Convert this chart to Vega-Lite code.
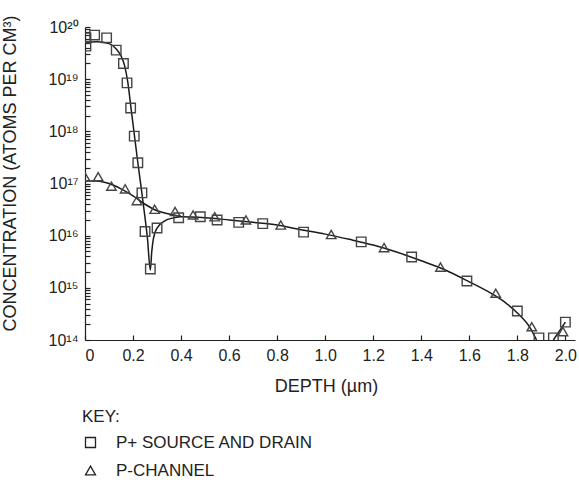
{
  "$schema": "https://vega.github.io/schema/vega-lite/v6.json",
  "autosize": {"type": "none"},
  "width": 490,
  "height": 313,
  "padding": {"left": 85, "top": 27, "right": 4, "bottom": 142},
  "background": "white",
  "config": {
    "view": {"stroke": null},
    "font": "Liberation Sans",
    "axis": {
      "domainColor": "#222", "tickColor": "#222", "labelColor": "#222", "titleColor": "#222",
      "labelFont": "Liberation Sans", "titleFont": "Liberation Sans",
      "labelFontSize": 16, "titleFontSize": 18, "titleFontWeight": "normal",
      "grid": false, "domainWidth": 1.2, "tickWidth": 1.2
    },
    "legend": {
      "labelFont": "Liberation Sans", "titleFont": "Liberation Sans",
      "labelFontSize": 17, "titleFontSize": 17, "titleFontWeight": "normal",
      "labelColor": "#222", "titleColor": "#222", "labelLimit": 400
    }
  },
  "datasets": {
    "fits": [
      {"series": "sd", "x": 0, "y": 5.0e19},
      {"series": "sd", "x": 0.05, "y": 5.2e19},
      {"series": "sd", "x": 0.1, "y": 4.8e19},
      {"series": "sd", "x": 0.13, "y": 3.8e19},
      {"series": "sd", "x": 0.15, "y": 2.8e19},
      {"series": "sd", "x": 0.165, "y": 1.8e19},
      {"series": "sd", "x": 0.178, "y": 8.9e18},
      {"series": "sd", "x": 0.19, "y": 3.2e18},
      {"series": "sd", "x": 0.205, "y": 8.9e17},
      {"series": "sd", "x": 0.22, "y": 2.5e17},
      {"series": "sd", "x": 0.235, "y": 7.6e16},
      {"series": "sd", "x": 0.25, "y": 2.2e16},
      {"series": "sd", "x": 0.26, "y": 8.9e15},
      {"series": "sd", "x": 0.272, "y": 2.2e15},
      {"series": "sd", "x": 0.278, "y": 5.0e15},
      {"series": "sd", "x": 0.285, "y": 8.9e15},
      {"series": "sd", "x": 0.3, "y": 1.4e16},
      {"series": "sd", "x": 0.33, "y": 1.9e16},
      {"series": "sd", "x": 0.37, "y": 2.2e16},
      {"series": "sd", "x": 0.4, "y": 2.3e16},
      {"series": "sd", "x": 0.5, "y": 2.2e16},
      {"series": "sd", "x": 0.6, "y": 2.0e16},
      {"series": "sd", "x": 0.7, "y": 1.8e16},
      {"series": "sd", "x": 0.8, "y": 1.6e16},
      {"series": "sd", "x": 0.9, "y": 1.3e16},
      {"series": "sd", "x": 1.0, "y": 1.07e16},
      {"series": "sd", "x": 1.1, "y": 8.5e15},
      {"series": "sd", "x": 1.2, "y": 6.6e15},
      {"series": "sd", "x": 1.3, "y": 4.8e15},
      {"series": "sd", "x": 1.4, "y": 3.3e15},
      {"series": "sd", "x": 1.5, "y": 2.2e15},
      {"series": "sd", "x": 1.6, "y": 1.3e15},
      {"series": "sd", "x": 1.7, "y": 7.4e14},
      {"series": "sd", "x": 1.75, "y": 5.2e14},
      {"series": "sd", "x": 1.8, "y": 3.3e14},
      {"series": "sd", "x": 1.85, "y": 1.8e14},
      {"series": "sd", "x": 1.88, "y": 1.0e14},
      {"series": "tail", "x": 1.95, "y": 1.0e14},
      {"series": "tail", "x": 2.0, "y": 2.2e14},
      {"series": "pc", "x": 0, "y": 1.12e17},
      {"series": "pc", "x": 0.05, "y": 1.12e17},
      {"series": "pc", "x": 0.1, "y": 1.0e17},
      {"series": "pc", "x": 0.15, "y": 7.9e16},
      {"series": "pc", "x": 0.2, "y": 5.8e16},
      {"series": "pc", "x": 0.25, "y": 4.0e16},
      {"series": "pc", "x": 0.3, "y": 3.0e16},
      {"series": "pc", "x": 0.35, "y": 2.6e16},
      {"series": "pc", "x": 0.4, "y": 2.35e16}
    ],
    "points": [
      {"type": "P+ SOURCE  AND DRAIN", "x": 0.004, "y": 6.2e19},
      {"type": "P+ SOURCE  AND DRAIN", "x": 0.004, "y": 4.3e19},
      {"type": "P+ SOURCE  AND DRAIN", "x": 0.04, "y": 7.0e19},
      {"type": "P+ SOURCE  AND DRAIN", "x": 0.09, "y": 6.2e19},
      {"type": "P+ SOURCE  AND DRAIN", "x": 0.13, "y": 3.6e19},
      {"type": "P+ SOURCE  AND DRAIN", "x": 0.16, "y": 2.0e19},
      {"type": "P+ SOURCE  AND DRAIN", "x": 0.175, "y": 8.5e18},
      {"type": "P+ SOURCE  AND DRAIN", "x": 0.19, "y": 2.8e18},
      {"type": "P+ SOURCE  AND DRAIN", "x": 0.205, "y": 8.1e17},
      {"type": "P+ SOURCE  AND DRAIN", "x": 0.22, "y": 2.5e17},
      {"type": "P+ SOURCE  AND DRAIN", "x": 0.237, "y": 6.6e16},
      {"type": "P+ SOURCE  AND DRAIN", "x": 0.25, "y": 1.2e16},
      {"type": "P+ SOURCE  AND DRAIN", "x": 0.272, "y": 2.3e15},
      {"type": "P+ SOURCE  AND DRAIN", "x": 0.3, "y": 1.4e16},
      {"type": "P+ SOURCE  AND DRAIN", "x": 0.39, "y": 2.2e16},
      {"type": "P+ SOURCE  AND DRAIN", "x": 0.48, "y": 2.3e16},
      {"type": "P+ SOURCE  AND DRAIN", "x": 0.55, "y": 2.0e16},
      {"type": "P+ SOURCE  AND DRAIN", "x": 0.64, "y": 1.8e16},
      {"type": "P+ SOURCE  AND DRAIN", "x": 0.74, "y": 1.7e16},
      {"type": "P+ SOURCE  AND DRAIN", "x": 0.91, "y": 1.17e16},
      {"type": "P+ SOURCE  AND DRAIN", "x": 1.15, "y": 7.6e15},
      {"type": "P+ SOURCE  AND DRAIN", "x": 1.36, "y": 3.9e15},
      {"type": "P+ SOURCE  AND DRAIN", "x": 1.59, "y": 1.35e15},
      {"type": "P+ SOURCE  AND DRAIN", "x": 1.8, "y": 3.6e14},
      {"type": "P+ SOURCE  AND DRAIN", "x": 1.89, "y": 1.1e14},
      {"type": "P+ SOURCE  AND DRAIN", "x": 1.95, "y": 1.1e14},
      {"type": "P+ SOURCE  AND DRAIN", "x": 2.0, "y": 2.2e14},
      {"type": "P-CHANNEL", "x": 0.0, "y": 1.35e17},
      {"type": "P-CHANNEL", "x": 0.055, "y": 1.35e17},
      {"type": "P-CHANNEL", "x": 0.11, "y": 8.9e16},
      {"type": "P-CHANNEL", "x": 0.167, "y": 7.9e16},
      {"type": "P-CHANNEL", "x": 0.216, "y": 4.7e16},
      {"type": "P-CHANNEL", "x": 0.29, "y": 3.2e16},
      {"type": "P-CHANNEL", "x": 0.375, "y": 2.9e16},
      {"type": "P-CHANNEL", "x": 0.45, "y": 2.5e16},
      {"type": "P-CHANNEL", "x": 0.54, "y": 2.3e16},
      {"type": "P-CHANNEL", "x": 0.67, "y": 2.0e16},
      {"type": "P-CHANNEL", "x": 0.815, "y": 1.6e16},
      {"type": "P-CHANNEL", "x": 1.025, "y": 1.05e16},
      {"type": "P-CHANNEL", "x": 1.245, "y": 5.9e15},
      {"type": "P-CHANNEL", "x": 1.48, "y": 2.5e15},
      {"type": "P-CHANNEL", "x": 1.71, "y": 7.9e14},
      {"type": "P-CHANNEL", "x": 1.86, "y": 1.8e14},
      {"type": "P-CHANNEL", "x": 1.99, "y": 1.45e14}
    ]
  },
  "layer": [
    {
      "data": {"name": "fits"},
      "mark": {"type": "line", "color": "#1a1a1a", "strokeWidth": 1.5, "interpolate": "monotone", "clip": true},
      "encoding": {
        "x": {
          "field": "x", "type": "quantitative",
          "scale": {"domain": [0, 2.04], "nice": false, "zero": false},
          "axis": {
            "values": [0, 0.2, 0.4, 0.6, 0.8, 1.0, 1.2, 1.4, 1.6, 1.8, 2.0],
            "labelExpr": "datum.value == 0 ? '0' : format(datum.value, '.1f')",
            "tickSize": -5, "labelPadding": 12,
            "title": "DEPTH (µm)", "titleX": 241, "titleY": 46, "titleBaseline": "middle", "titleAnchor": "middle"
          }
        },
        "y": {
          "field": "y", "type": "quantitative",
          "scale": {"type": "log", "domain": [1e14, 1e20], "nice": false},
          "axis": {
            "values": [1e14,2e14,3e14,4e14,5e14,6e14,7e14,8e14,9e14,1e15,2e15,3e15,4e15,5e15,6e15,7e15,8e15,9e15,1e16,2e16,3e16,4e16,5e16,6e16,7e16,8e16,9e16,1e17,2e17,3e17,4e17,5e17,6e17,7e17,8e17,9e17,1e18,2e18,3e18,4e18,5e18,6e18,7e18,8e18,9e18,1e19,2e19,3e19,4e19,5e19,6e19,7e19,8e19,9e19,1e20],
            "labelExpr": "abs(log(datum.value)/LN10 - round(log(datum.value)/LN10)) > 0.001 ? '' : (round(log(datum.value)/LN10) >= 20 ? '10²⁰' : '10¹' + ['⁰','¹','²','³','⁴','⁵','⁶','⁷','⁸','⁹'][round(log(datum.value)/LN10) - 10])",
            "tickSize": -5, "labelPadding": 12, "labelBound": false, "labelOverlap": false,
            "title": "CONCENTRATION (ATOMS PER CM³)", "titleX": -75, "titleY": 146, "titleAngle": -90, "titleBaseline": "middle", "titleAnchor": "middle", "titleAlign": "center"
          }
        },
        "detail": {"field": "series", "type": "nominal"}
      }
    },
    {
      "data": {"name": "points"},
      "mark": {"type": "point", "filled": false, "size": 90, "strokeWidth": 1.4, "color": "#444", "opacity": 1, "clip": true},
      "encoding": {
        "x": {"field": "x", "type": "quantitative"},
        "y": {"field": "y", "type": "quantitative"},
        "shape": {
          "field": "type", "type": "nominal",
          "scale": {"domain": ["P+ SOURCE  AND DRAIN", "P-CHANNEL"], "range": ["square", "triangle-up"]},
          "legend": {
            "title": "KEY:", "orient": "none", "legendX": -3, "legendY": 382,
            "symbolSize": 100, "symbolStrokeWidth": 1.3, "symbolStrokeColor": "#222", "symbolFillColor": "transparent",
            "rowPadding": 10, "labelOffset": 17, "titlePadding": 8, "labelLimit": 400
          }
        }
      }
    }
  ]
}
